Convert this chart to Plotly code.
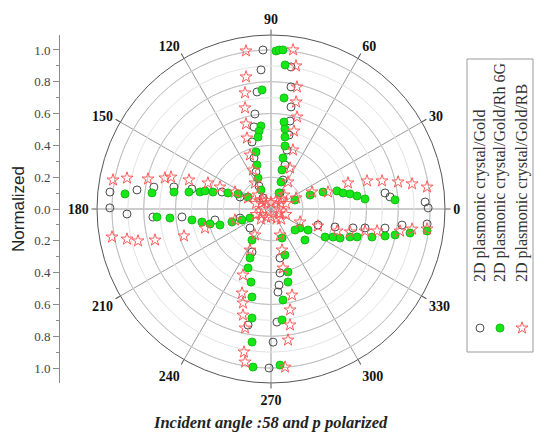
import plotly.graph_objects as go

# ---------------- data (theta in degrees, normalized r) ----------------
gold_theta = [92.9, 94.1, 96.8, 99.6, 101.7, 105.8, 108.4, 112.1, 117.6, 126.0,
              82.0, 80.7, 78.9, 77.8, 76.3, 74.8, 72.3, 67.5, 60.6,
              174.0, 171.9, 169.4, 167.2, 165.8, 160.9, 158.8,
              179.6, 182.0, 183.9, 185.1, 191.1, 196.2,
              8.0, 5.8, 2.6, 0.4,
              347.0, 348.6, 350.5, 353.0, 354.5, 344.3, 341.2,
              258.8, 269.3, 280.4, 278.0, 276.0, 274.8, 273.0, 270.9, 246.2, 222.1]
gold_r = [1.001, 0.877, 0.741, 0.606, 0.527, 0.438, 0.338, 0.251, 0.163, 0.086,
          0.902, 0.778, 0.654, 0.566, 0.479, 0.384, 0.290, 0.197, 0.115,
          1.018, 0.851, 0.749, 0.626, 0.513, 0.326, 0.209,
          1.013, 0.906, 0.744, 0.562, 0.359, 0.203,
          0.724, 0.752, 0.970, 0.988,
          0.529, 0.603, 0.727, 0.830, 0.986, 0.418, 0.312,
          0.744, 1.000, 0.313, 0.406, 0.481, 0.524, 0.712, 0.837, 0.296, 0.178]

rh_theta = [88.2, 87.1, 85.7, 84.4, 83.3, 81.5, 80.1, 79.0, 77.5, 76.8, 74.3, 69.7, 63.4,
            94.3, 96.9, 98.7, 100.2, 104.7, 107.7, 112.8, 117.8,
            174.1, 172.3, 170.1, 168.3, 166.5, 164.7, 163.7, 159.6, 155.6, 152.4,
            184.0, 185.1, 187.9, 190.7, 193.8, 197.4, 198.4, 200.8, 203.2,
            18.1, 15.3, 12.5, 10.8, 8.6, 6.1, 4.2, 19.7, 20.6,
            332.6, 335.7, 337.2, 340.5, 342.0, 344.5, 346.7, 348.2, 350.2, 352.0,
            326.8, 330.4, 317.6, 318.8,
            238.5, 246.8, 248.7, 254.7, 257.8, 260.1, 261.9, 263.5,
            290.8, 286.9, 285.1, 283.1, 277.5, 275.7, 273.3]
rh_r = [0.994, 1.001, 1.003, 0.910, 0.703, 0.553, 0.511, 0.461, 0.406, 0.330, 0.255, 0.181, 0.113,
        0.751, 0.526, 0.496, 0.460, 0.371, 0.290, 0.211, 0.135,
        0.923, 0.755, 0.619, 0.527, 0.459, 0.430, 0.380, 0.289, 0.228, 0.163,
        0.719, 0.638, 0.502, 0.442, 0.395, 0.336, 0.259, 0.195, 0.144,
        0.344, 0.430, 0.464, 0.506, 0.547, 0.594, 0.782, 0.261, 0.161,
        0.383, 0.428, 0.471, 0.527, 0.569, 0.659, 0.737, 0.797, 0.887, 0.991,
        0.218, 0.268, 0.289, 0.201,
        0.229, 0.335, 0.398, 0.476, 0.566, 0.696, 0.845, 1.000,
        0.195, 0.302, 0.410, 0.471, 0.577, 0.701, 0.983]

rb_theta = [99.0, 100.7, 102.6, 104.4, 106.4, 108.7, 111.3, 114.8, 121.6, 132.9,
            82.1, 80.1, 78.0, 76.8, 74.2, 73.6, 69.6, 65.1, 57.8, 47.1,
            169.6, 167.9, 166.3, 163.7, 162.3, 160.5, 157.6, 156.7, 154.7, 154.4,
            190.0, 191.8, 193.5, 195.0, 197.2, 196.1, 197.0,
            18.7, 16.3, 14.2, 12.0, 10.1, 8.0, 16.6, 22.5, 23.7,
            341.6, 343.8, 346.8, 348.3, 350.3, 351.9, 352.7, 340.1, 335.9,
            247.0, 251.0, 253.4, 255.2, 257.7, 259.3, 260.4, 242.9, 238.4,
            289.1, 285.0, 281.5, 283.7, 280.7, 279.3, 277.4, 275.1,
            0, 30, 45, 60, 90, 120, 135, 150, 180, 210, 225, 240, 270, 300, 315, 330,
            20, 200, 160, 340]
rb_r = [1.006, 0.845, 0.748, 0.656, 0.557, 0.471, 0.364, 0.270, 0.192, 0.120,
        1.010, 0.913, 0.784, 0.691, 0.601, 0.511, 0.396, 0.284, 0.201, 0.120,
        1.010, 0.926, 0.796, 0.695, 0.660, 0.547, 0.429, 0.349, 0.250, 0.160,
        1.015, 0.925, 0.860, 0.755, 0.573, 0.432, 0.237,
        0.511, 0.629, 0.720, 0.817, 0.901, 0.991, 0.374, 0.279, 0.172,
        0.438, 0.518, 0.607, 0.681, 0.823, 0.896, 0.989, 0.314, 0.200,
        0.451, 0.559, 0.617, 0.690, 0.766, 0.915, 0.976, 0.290, 0.192,
        0.173, 0.267, 0.379, 0.557, 0.646, 0.739, 0.831, 0.998,
        0.05, 0.07, 0.09, 0.06, 0.04, 0.06, 0.08, 0.07, 0.05, 0.07, 0.09, 0.06, 0.05, 0.07, 0.09, 0.06,
        0.10, 0.10, 0.10, 0.10]

series_names = ["2D plasmonic crystal/Gold",
                "2D plasmonic crystal/Gold/Rh 6G",
                "2D plasmonic crystal/Gold/RB"]
angle_ticks = list(range(0, 360, 30))
major_rings = [0.2, 0.4, 0.6, 0.8, 1.0]
left_tick_vals = [1.0, 0.8, 0.6, 0.4, 0.2, 0.0, -0.2, -0.4, -0.6, -0.8, -1.0]
left_tick_text = ["1.0", "0.8", "0.6", "0.4", "0.2", "0.0", "0.2", "0.4", "0.6", "0.8", "1.0"]
title_text = "Incident angle :58 and p polarized"
ylabel_text = "Normalized"

# ---------------- styling ----------------
W, H = 534, 432
cx, cy, R = 271, 209, 174       # polar centre / radius in px
RMAX = 1.094
SERIF = "Liberation Serif, Times New Roman, serif"

styles = [
    dict(symbol="circle-open", size=8, color="#4a4a4a", line=dict(width=1, color="#4a4a4a")),
    dict(symbol="circle", size=8, color="#19e619", line=dict(width=1, color="#10c010")),
    dict(symbol="star-open", size=9, color="#ff5a5a", line=dict(width=1, color="#ff5a5a")),
]

fig = go.Figure()

ring_theta = list(range(0, 361, 2))
for rv in major_rings:
    fig.add_trace(go.Scatterpolar(r=[rv] * len(ring_theta), theta=ring_theta, mode="lines",
                                  line=dict(color="#bdbdbd", width=1), hoverinfo="skip",
                                  showlegend=False))

for th, rr, st, nm in [(gold_theta, gold_r, styles[0], series_names[0]),
                       (rh_theta, rh_r, styles[1], series_names[1]),
                       (rb_theta, rb_r, styles[2], series_names[2])]:
    fig.add_trace(go.Scatterpolar(r=rr, theta=th, mode="markers", name=nm,
                                  marker=st, showlegend=False))

# legend key markers (rotated legend drawn manually)
leg_x = [480, 500, 522]
leg_y_val = (cy - 328) / 159.0
for i in range(3):
    fig.add_trace(go.Scatter(x=[leg_x[i]], y=[leg_y_val], mode="markers",
                             marker=styles[i], xaxis="x", yaxis="y",
                             showlegend=False, hoverinfo="skip"))

pol_x = [(cx - R) / W, (cx + R) / W]
pol_y = [(H - cy - R) / H, (H - cy + R) / H]

fig.update_layout(
    width=W, height=H,
    margin=dict(l=0, r=0, t=0, b=0),
    paper_bgcolor="white", plot_bgcolor="rgba(0,0,0,0)",
    showlegend=False,
    polar=dict(
        domain=dict(x=pol_x, y=pol_y),
        bgcolor="white",
        radialaxis=dict(range=[0, RMAX], tickvals=[0.1 * k for k in range(1, 11)],
                        showticklabels=False, ticks="", showline=False,
                        gridcolor="#e3e3e3", gridwidth=1),
        angularaxis=dict(tickmode="array", tickvals=angle_ticks,
                         ticktext=[str(a) for a in angle_ticks],
                         direction="counterclockwise", rotation=0,
                         showline=True, linecolor="#555555", linewidth=1,
                         gridcolor="#9a9a9a", gridwidth=1,
                         ticks="outside", ticklen=5, tickcolor="#555555",
                         tickfont=dict(family=SERIF, size=14, color="#111111", weight="bold")),
    ),
    xaxis=dict(domain=[60 / W, 1.0], range=[60, W], visible=False, fixedrange=True),
    yaxis=dict(domain=pol_y, range=[-RMAX, RMAX], anchor="x", side="left",
               tickvals=left_tick_vals, ticktext=left_tick_text,
               showline=True, linecolor="#8a8a8a", linewidth=1,
               ticks="outside", ticklen=6, tickcolor="#8a8a8a",
               minor=dict(ticks="outside", ticklen=3, dtick=0.1, tickcolor="#8a8a8a"),
               showgrid=False, zeroline=False, fixedrange=True,
               tickfont=dict(family=SERIF, size=13, color="#444444")),
)

annotations = [
    dict(text="<b><i>" + title_text + "</i></b>", x=270 / W, y=(H - 422) / H,
         xref="paper", yref="paper", showarrow=False, xanchor="center", yanchor="middle",
         font=dict(family=SERIF, size=16.5, color="#222222")),
    dict(text=ylabel_text, x=18 / W, y=(H - cy) / H, xref="paper", yref="paper",
         showarrow=False, textangle=-90, xanchor="center", yanchor="middle",
         font=dict(family="Liberation Sans, Arial, sans-serif", size=17, color="#222222")),
]
for i in range(3):
    annotations.append(dict(text=series_names[i], x=leg_x[i] / W, y=(H - 284) / H,
                            xref="paper", yref="paper", showarrow=False, textangle=-90,
                            xanchor="center", yanchor="bottom",
                            font=dict(family=SERIF, size=16, color="#333333")))
fig.update_layout(annotations=annotations)

fig.add_shape(type="rect", xref="paper", yref="paper",
              x0=467 / W, x1=533 / W, y0=(H - 352) / H, y1=(H - 59) / H,
              line=dict(color="#9a9a9a", width=1), fillcolor="rgba(0,0,0,0)")

fig.write_html("out.html", config={"displayModeBar": False},
               post_script="document.body.style.margin='0';")
